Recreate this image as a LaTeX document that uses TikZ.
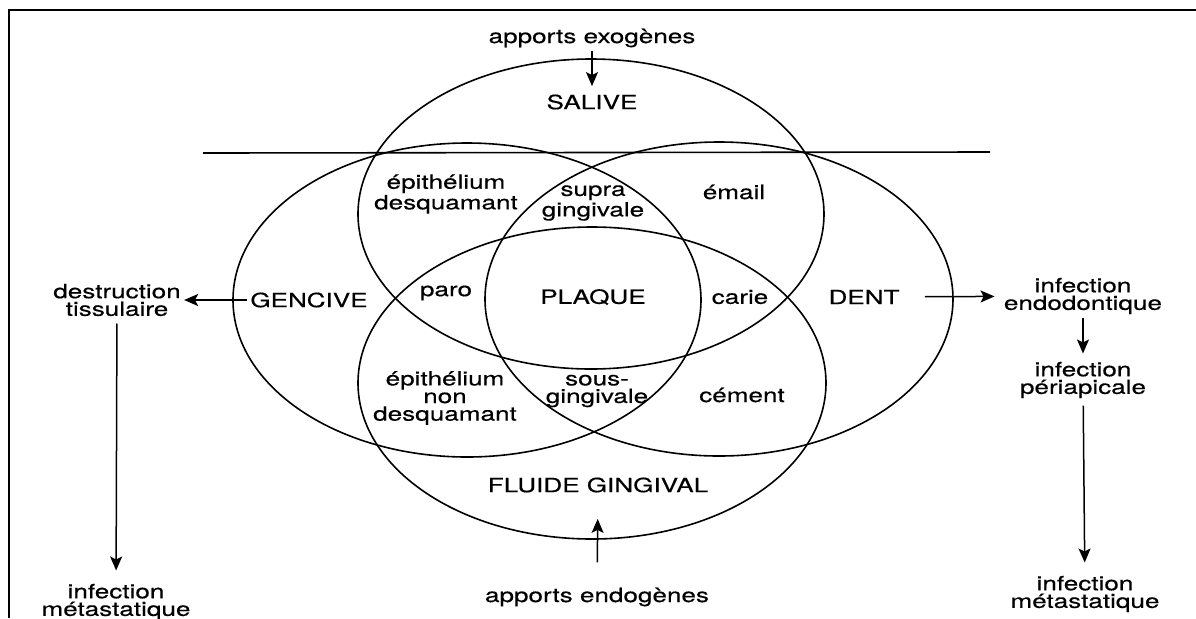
\documentclass[tikz,border=0pt]{standalone}
\usepackage{fontspec}
\setmainfont{TeX Gyre Heros}[FakeStretch=1.33, FakeBold=0.4]
\usetikzlibrary{arrows.meta}

\begin{document}
\begin{tikzpicture}[x=0.5pt, y=-0.5pt,
    lbl/.style={inner sep=1.5pt, align=center, font=\fontsize{9.8}{8.8}\selectfont},
    arr/.style={line width=0.75pt, -{Stealth[length=7pt, width=6pt, inset=1.5pt]}}]
  \useasboundingbox (0,0) rectangle (1196,618);
  \draw[line width=1pt] (9,618) -- (9,10) -- (1196,10);
  % the four ellipses
  \draw[line width=0.8pt] (591,214) ellipse [x radius=233, y radius=155];
  \draw[line width=0.8pt] (467,300) ellipse [x radius=234, y radius=157];
  \draw[line width=0.8pt] (719,299) ellipse [x radius=234, y radius=157];
  \draw[line width=0.8pt] (592,383) ellipse [x radius=234, y radius=156];
  \draw[line width=0.8pt] (203,153) -- (990,152);
  % labels inside
  \node[lbl] (salive) at (592,102) {SALIVE};
  \node[lbl] (epides) at (446,194) {épithélium\\desquamant};
  \node[lbl] (supra) at (593,203) {supra\\gingivale};
  \node[lbl] (email) at (734,192) {émail};
  \node[lbl] (gencive) at (309,300) {GENCIVE};
  \node[lbl] (paro) at (446,293) {paro};
  \node[lbl] (plaque) at (593,297) {PLAQUE};
  \node[lbl] (carie) at (740,297) {carie};
  \node[lbl] (dent) at (864,297) {DENT};
  \node[lbl] (epinon) at (445,398) {épithélium\\non\\desquamant};
  \node[lbl] (sous) at (597,391) {sous-\\gingivale};
  \node[lbl] (cement) at (742,395) {cément};
  \node[lbl] (fluide) at (598,485) {FLUIDE GINGIVAL};
  % labels outside
  \node[lbl] (exo) at (592,38) {apports exogènes};
  \node[lbl] (endo) at (597,597) {apports endogènes};
  \node[lbl] (destr) at (117,300) {destruction\\tissulaire};
  \node[lbl] (metaL) at (116,602) {infection\\métastatique};
  \node[lbl] (endodont) at (1083,296) {infection\\endodontique};
  \node[lbl] (peri) at (1083,380) {infection\\périapicale};
  \node[lbl] (metaR) at (1085,594) {infection\\métastatique};
  % arrows
  \draw[arr, shorten >=2.5pt] (exo) -- (salive);
  \draw[arr] (gencive) -- (destr);
  \draw[arr, shorten <=2pt, shorten >=5pt] (destr) -- (metaL);
  \draw[arr, shorten <=11pt, shorten >=3pt] (dent) -- (endodont);
  \draw[arr, shorten >=2.5pt] (endodont) -- (peri);
  \draw[arr, shorten <=2pt, shorten >=5pt] (peri) -- (metaR);
  \draw[arr, shorten <=11pt, shorten >=11.5pt] (endo) -- (fluide);
\end{tikzpicture}
\end{document}
